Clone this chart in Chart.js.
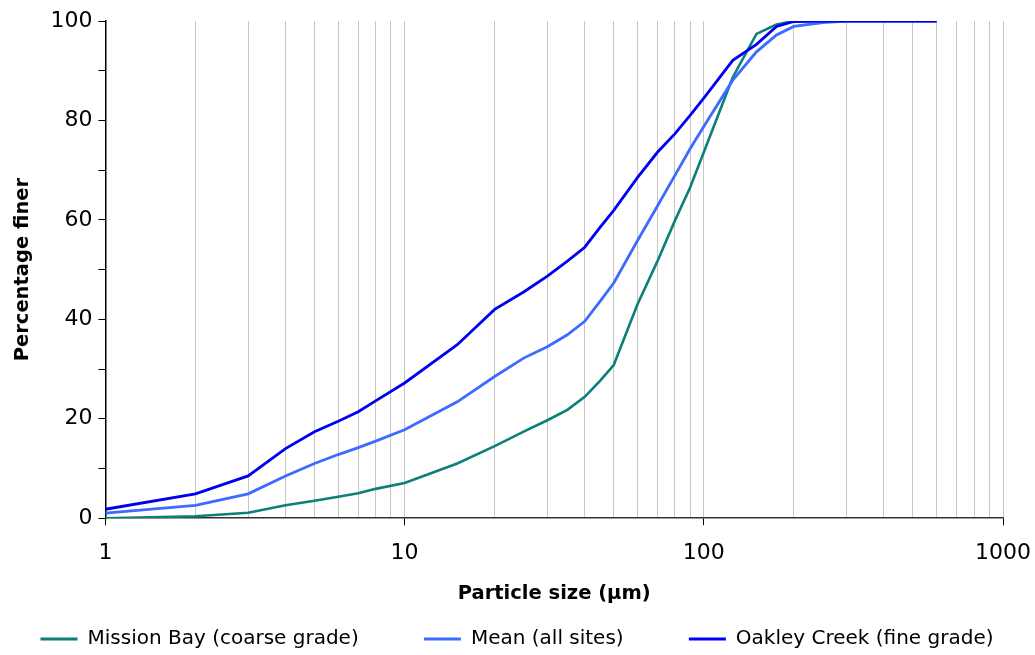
<!DOCTYPE html>
<html>
<head>
<meta charset="utf-8">
<script src="https://cdn.jsdelivr.net/npm/chart.js@4/dist/chart.umd.min.js"></script>
<style>
  html, body { margin: 0; padding: 0; background: #ffffff; }
  #wrap { width: 1035px; height: 655px; position: relative; }
</style>
</head>
<body>
<div id="wrap"><canvas id="c" width="1035" height="655"></canvas></div>
<script>
// Particle size (µm)
const particleSizes = [1, 2, 3, 4, 5, 6, 7, 8, 10, 15, 20, 25, 30, 35, 40, 45, 50, 60, 70, 80, 90, 100, 125, 150, 175, 200, 250, 300, 400, 500, 600];
// Percentage finer for each series
const missionBay = [0, 0.4, 1.1, 2.6, 3.5, 4.3, 5.0, 5.9, 7.1, 11.0, 14.5, 17.4, 19.7, 21.8, 24.4, 27.6, 30.8, 43.0, 51.7, 59.8, 66.5, 73.6, 88.7, 97.4, 99.3, 100, 100, 100, 100, 100, 100];
const meanAllSites = [1.0, 2.6, 4.9, 8.5, 11.0, 12.8, 14.2, 15.5, 17.8, 23.4, 28.5, 32.2, 34.5, 36.9, 39.6, 43.6, 47.3, 55.8, 62.8, 68.9, 74.3, 78.8, 88.1, 93.8, 97.2, 98.9, 99.7, 100, 100, 100, 100];
const oakleyCreek = [1.8, 4.9, 8.5, 14.0, 17.4, 19.5, 21.4, 23.6, 27.2, 34.9, 42.0, 45.5, 48.7, 51.7, 54.5, 58.5, 61.9, 68.5, 73.6, 77.3, 81.0, 84.5, 92.1, 95.3, 98.9, 99.9, 100, 100, 100, 100, 100];
const seriesNames = ['Mission Bay (coarse grade)', 'Mean (all sites)', 'Oakley Creek (fine grade)'];
// Axis ticks
const xGridValues = [1, 2, 3, 4, 5, 6, 7, 8, 9, 10, 20, 30, 40, 50, 60, 70, 80, 90, 100, 200, 300, 400, 500, 600, 700, 800, 900, 1000];
const xTickLabels = [1, 10, 100, 1000];
const yTickLabels = [0, 20, 40, 60, 80, 100];

const FONT = "'DejaVu Sans', 'Liberation Sans', Arial, sans-serif";
function pts(vals) { return particleSizes.map((x, i) => ({ x: x, y: vals[i] })); }

const legendShift = {
  id: 'legendShift',
  afterLayout(chart) {
    if (chart.legend) { chart.legend.left += 10; chart.legend.right += 10; }
  }
};

const chart = new Chart(document.getElementById('c'), {
  type: 'line',
  plugins: [legendShift],
  data: {
    datasets: [
      { label: seriesNames[0], data: pts(missionBay), borderColor: '#0b7f78', backgroundColor: '#0b7f78', borderWidth: 2.6, pointRadius: 0, tension: 0, order: 2 },
      { label: seriesNames[1], data: pts(meanAllSites), borderColor: '#3d6bff', backgroundColor: '#3d6bff', borderWidth: 2.8, pointRadius: 0, tension: 0, order: 1 },
      { label: seriesNames[2], data: pts(oakleyCreek), borderColor: '#0000f0', backgroundColor: '#0000f0', borderWidth: 2.8, pointRadius: 0, tension: 0, order: 0 }
    ]
  },
  options: {
    responsive: false,
    animation: false,
    events: [],
    layout: { padding: { left: 11, right: 32, top: 21, bottom: -4 } },
    scales: {
      x: {
        type: 'logarithmic',
        min: 1,
        max: 1000,
        afterBuildTicks: (axis) => { axis.ticks = xGridValues.map(v => ({ value: v, major: xTickLabels.includes(v) })); },
        afterFit: (scale) => { scale.paddingRight = 0; },
        ticks: {
          autoSkip: false,
          maxRotation: 0,
          color: '#000',
          font: { family: FONT, size: 22 },
          padding: 15,
          callback: (v) => xTickLabels.includes(v) ? String(v) : ''
        },
        grid: {
          color: (ctx) => (ctx.tick && ctx.tick.value === 1) ? 'rgba(0,0,0,0)' : '#c6c6c6',
          lineWidth: 1,
          drawTicks: true,
          tickLength: 7,
          tickColor: (ctx) => (ctx.tick && xTickLabels.includes(ctx.tick.value)) ? '#000' : 'rgba(0,0,0,0)',
          tickWidth: 1
        },
        border: { display: true, color: '#333', width: 1.5 },
        title: {
          display: true,
          text: 'Particle size (µm)',
          color: '#000',
          font: { family: FONT, size: 19.5, weight: 'bold' },
          padding: { top: 1, bottom: 15 }
        }
      },
      y: {
        type: 'linear',
        min: 0,
        max: 100,
        afterFit: (scale) => { scale.paddingTop = 0; },
        ticks: {
          stepSize: 10,
          color: '#000',
          font: { family: FONT, size: 22 },
          padding: 6,
          callback: (v) => yTickLabels.includes(v) ? String(v) : ''
        },
        grid: {
          drawOnChartArea: false,
          drawTicks: true,
          tickLength: 7,
          tickColor: '#000',
          tickWidth: 1
        },
        border: { display: true, color: '#000', width: 1.5 },
        title: {
          display: true,
          text: 'Percentage finer',
          color: '#000',
          font: { family: FONT, size: 19.5, weight: 'bold' },
          padding: { top: 0, bottom: 10 }
        }
      }
    },
    plugins: {
      legend: {
        position: 'bottom',
        labels: {
          sort: (a, b) => a.datasetIndex - b.datasetIndex,
          boxWidth: 37,
          boxHeight: 3,
          padding: 8,
          color: '#000',
          font: { family: FONT, size: 20 },
          generateLabels: (ch) => {
            const items = Chart.defaults.plugins.legend.labels.generateLabels(ch);
            items.forEach((it) => {
              it.lineWidth = 0;
              if (it.datasetIndex < seriesNames.length - 1) it.text = it.text + '         ';
            });
            return items;
          }
        }
      },
      tooltip: { enabled: false }
    }
  }
});
</script>
</body>
</html>
